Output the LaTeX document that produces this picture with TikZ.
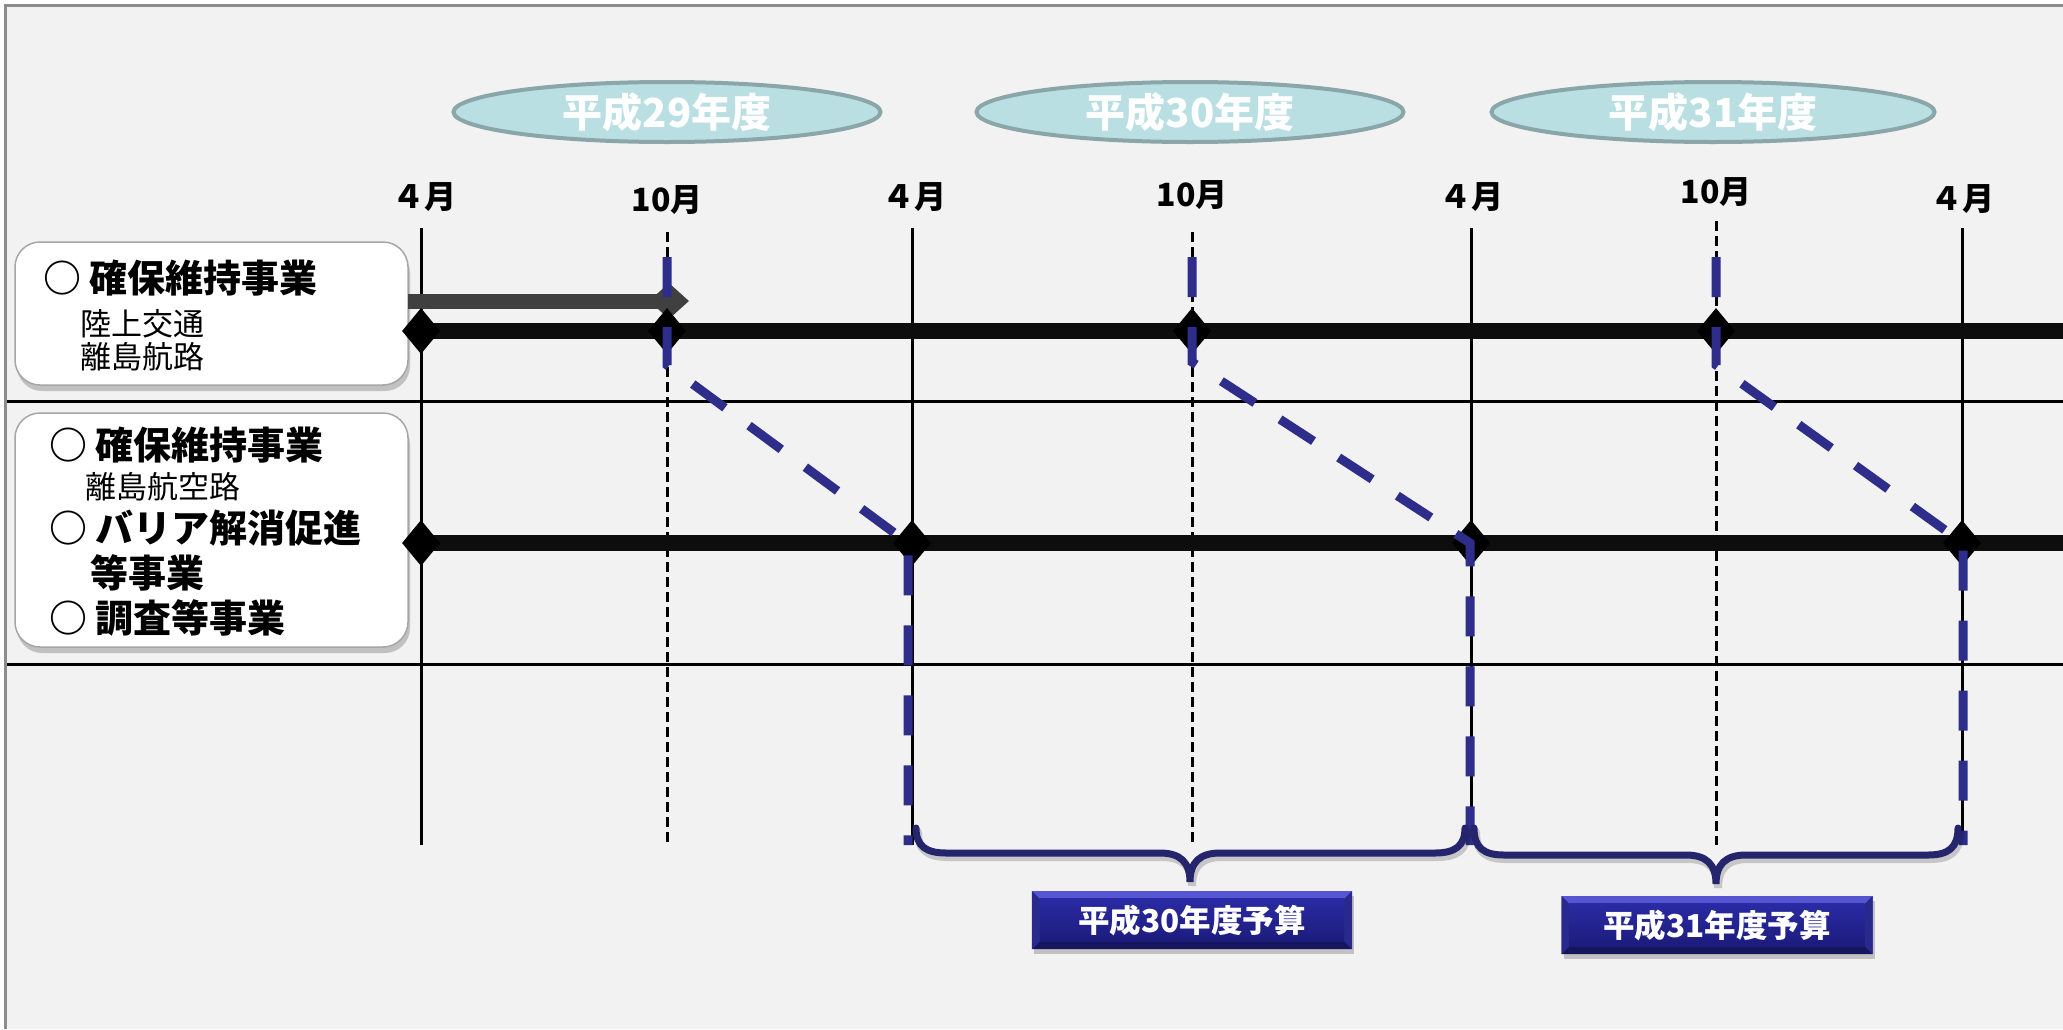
\documentclass[tikz,border=0pt]{standalone}
\usepackage{fontspec}
\setmainfont{Noto Sans CJK JP}
\usetikzlibrary{shapes.geometric,shadows,calc}
\definecolor{bg}{HTML}{F2F2F2}
\definecolor{framec}{HTML}{8C8C8C}
\definecolor{ellfill}{HTML}{B9DFE3}
\definecolor{elldraw}{HTML}{8BA6A9}
\definecolor{navyline}{HTML}{2E2E8A}
\definecolor{bracec}{HTML}{25256E}
\definecolor{grayarrow}{HTML}{404040}
\definecolor{boxtop}{HTML}{2A2AA4}
\definecolor{boxbot}{HTML}{1C1C7C}
\definecolor{bevlight}{HTML}{5656D2}
\definecolor{bevdark}{HTML}{16165E}
\definecolor{rowc}{HTML}{0D0D0D}
\tikzset{
  yearell/.style={ellipse, fill=ellfill, draw=elldraw, line width=4pt,
    minimum width=427pt, minimum height=60pt, inner sep=0pt, text=white,
    font=\bfseries\fontsize{40}{44}\selectfont},
  month/.style={font=\bfseries\fontsize{32}{36}\selectfont, inner sep=0pt},
  solidv/.style={line width=3pt, black},
  dashv/.style={line width=3pt, black, dash pattern=on 10pt off 5pt},
  sepline/.style={line width=3pt, black},
  rowline/.style={line width=16pt, rowc},
  dia/.style={diamond, fill=black, minimum width=38pt, minimum height=46pt, inner sep=0pt},
  graydia/.style={diamond, fill=grayarrow, minimum width=40pt, minimum height=36pt, inner sep=0pt},
  bluepath/.style={navyline, line width=9pt, dash pattern=on 40pt off 30pt},
  bracepath/.style={bracec, line width=7pt, line cap=round},
  braceshadow/.style={black, opacity=0.18, line width=8pt, line cap=round},
  labelbox/.style={rectangle, rounded corners=25pt, fill=white, draw=black!35, line width=1.5pt,
    drop shadow={shadow xshift=2pt, shadow yshift=-6pt, opacity=0.35, fill=black!60}},
  bigtxt/.style={anchor=west, inner sep=0pt, font=\bfseries\fontsize{38}{42}\selectfont},
  smalltxt/.style={anchor=west, inner sep=0pt, font=\fontsize{31}{34}\selectfont},
  budget/.style={rectangle, minimum width=320pt, minimum height=58pt, inner sep=0pt,
    fill=bevlight, drop shadow={shadow xshift=2pt, shadow yshift=-5pt, opacity=0.35, fill=black!60}},
  budgettxt/.style={text=white, font=\bfseries\fontsize{31.5}{35}\selectfont, inner sep=0pt}
}
\begin{document}
\begin{tikzpicture}[x=1pt,y=-1pt]
\useasboundingbox (0,0) rectangle (2063,1029);
% background and frame
\fill[white] (0,0) rectangle (2063,1029);
\fill[bg] (5,5) rectangle (2063,1029);
\draw[framec, line width=3pt] (5,1029) -- (5,5) -- (2063,5);

% year ellipses
\node[yearell] (y29) at (667,112) {平成29年度};
\node[yearell] (y30) at (1190,112) {平成30年度};
\node[yearell, minimum width=443pt] (y31) at (1713,112) {平成31年度};

% month labels
\node[month] (m1) at (424,197) {４月};
\node[month] (m2) at (667,200) {10月};
\node[month] (m3) at (914,197) {４月};
\node[month] (m4) at (1192,195) {10月};
\node[month] (m5) at (1471,197) {４月};
\node[month] (m6) at (1716,192) {10月};
\node[month] (m7) at (1962,199) {４月};

% separators
\draw[sepline] (7,401) -- (2063,401);
\draw[sepline] (7,664) -- (2063,664);

% vertical month lines
\draw[solidv] (421,228) -- (421,845);
\draw[solidv] (912,228) -- (912,845);
\draw[solidv] (1471,228) -- (1471,845);
\draw[solidv] (1962,228) -- (1962,845);
\draw[dashv] (667,232) -- (667,845);
\draw[dashv] (1192,232) -- (1192,845);
\draw[dashv] (1716,221) -- (1716,845);

% left boxes
\node[labelbox, minimum width=393pt, minimum height=143pt] (box1) at (211.5,313.5) {};
\node[labelbox, minimum width=393pt, minimum height=234pt] (box2) at (211.5,530) {};
\node[bigtxt] (t11) at (43,278) {○ 確保維持事業};
\node[smalltxt] (t12) at (80,324) {陸上交通};
\node[smalltxt] (t13) at (80,357) {離島航路};
\node[bigtxt] (t21) at (49,445) {○ 確保維持事業};
\node[smalltxt] (t22) at (85,487) {離島航空路};
\node[bigtxt] (t23) at (49,528) {○ バリア解消促進};
\node[bigtxt] (t24) at (90,573) {等事業};
\node[bigtxt] (t25) at (49,618) {○ 調査等事業};

% gray arrow (first row, until October)
\coordinate (gstart) at (408,301);
\node[graydia] (gtip) at (669,301) {};
\draw[grayarrow, line width=15pt] (gstart) -- (gtip.center);

% thick row lines
\coordinate (r1s) at (421,331);
\coordinate (r1e) at (2063,331);
\coordinate (r2s) at (421,543);
\coordinate (r2e) at (2063,543);
\draw[rowline] (r1s) -- (r1e);
\draw[rowline] (r2s) -- (r2e);

% diamonds
\node[dia] (d1) at (421,331) {};
\node[dia] (d2) at (667,331) {};
\node[dia] (d3) at (1192,331) {};
\node[dia] (d4) at (1716,331) {};
\node[dia] (d5) at (421,543) {};
\node[dia] (d6) at (912,543) {};
\node[dia] (d7) at (1471,543) {};
\node[dia] (d8) at (1962,543) {};

% blue dashed schedule paths
\coordinate (a0) at (667,257);
\coordinate (a1) at (667,365);
\coordinate (a2) at (908,543);
\coordinate (a3) at (908,845);
\coordinate (b0) at (1192,257);
\coordinate (b1) at (1192,362);
\coordinate (b2) at (1470,543);
\coordinate (b3) at (1470,845);
\coordinate (c0) at (1716,257);
\coordinate (c1) at (1716,365);
\coordinate (c2) at (1963,543);
\coordinate (c3) at (1963,845);
\draw[bluepath] (a0) -- (a1) -- (a2) -- (a3);
\draw[bluepath] (b0) -- (b1) -- (b2) -- (b3);
\draw[bluepath] (c0) -- (c1) -- (c2) -- (c3);

% braces
\begin{scope}[shift={(2,4)}]
\draw[braceshadow] (916,828) .. controls (916,846) and (926,853) .. (946,853) -- (1160,853)
  .. controls (1180,853) and (1190,862) .. (1190,882)
  .. controls (1190,862) and (1200,853) .. (1220,853) -- (1435,853)
  .. controls (1455,853) and (1465,846) .. (1465,828);
\draw[braceshadow] (1474,828) .. controls (1474,848) and (1484,855) .. (1504,855) -- (1686,855)
  .. controls (1706,855) and (1716,864) .. (1716,884)
  .. controls (1716,864) and (1726,855) .. (1746,855) -- (1928,855)
  .. controls (1948,855) and (1958,848) .. (1958,828);
\end{scope}
\draw[bracepath] (916,828) .. controls (916,846) and (926,853) .. (946,853) -- (1160,853)
  .. controls (1180,853) and (1190,862) .. (1190,882)
  .. controls (1190,862) and (1200,853) .. (1220,853) -- (1435,853)
  .. controls (1455,853) and (1465,846) .. (1465,828);
\draw[bracepath] (1474,828) .. controls (1474,848) and (1484,855) .. (1504,855) -- (1686,855)
  .. controls (1706,855) and (1716,864) .. (1716,884)
  .. controls (1716,864) and (1726,855) .. (1746,855) -- (1928,855)
  .. controls (1948,855) and (1958,848) .. (1958,828);

% budget boxes
\node[budget] (bud30) at (1192,920) {};
\node[budget, minimum width=311pt] (bud31) at (1717,925) {};
\foreach \b in {bud30,bud31}{
  \fill[bevdark] (\b.south west) -- ($(\b.south west)+(8,-8)$) -- ($(\b.south east)+(-8,-8)$) -- (\b.south east) -- cycle;
  \fill[boxbot!80!bevlight] (\b.south west) -- ($(\b.south west)+(8,-8)$) -- ($(\b.north west)+(8,8)$) -- (\b.north west) -- cycle;
  \fill[boxbot!80!bevlight] (\b.south east) -- ($(\b.south east)+(-8,-8)$) -- ($(\b.north east)+(-8,8)$) -- (\b.north east) -- cycle;
  \shade[top color=boxtop, bottom color=boxbot] ($(\b.north west)+(8,8)$) rectangle ($(\b.south east)+(-8,-8)$);
}
\node[budgettxt] (bt30) at (bud30) {平成30年度予算};
\node[budgettxt] (bt31) at (bud31) {平成31年度予算};
\end{tikzpicture}
\end{document}
